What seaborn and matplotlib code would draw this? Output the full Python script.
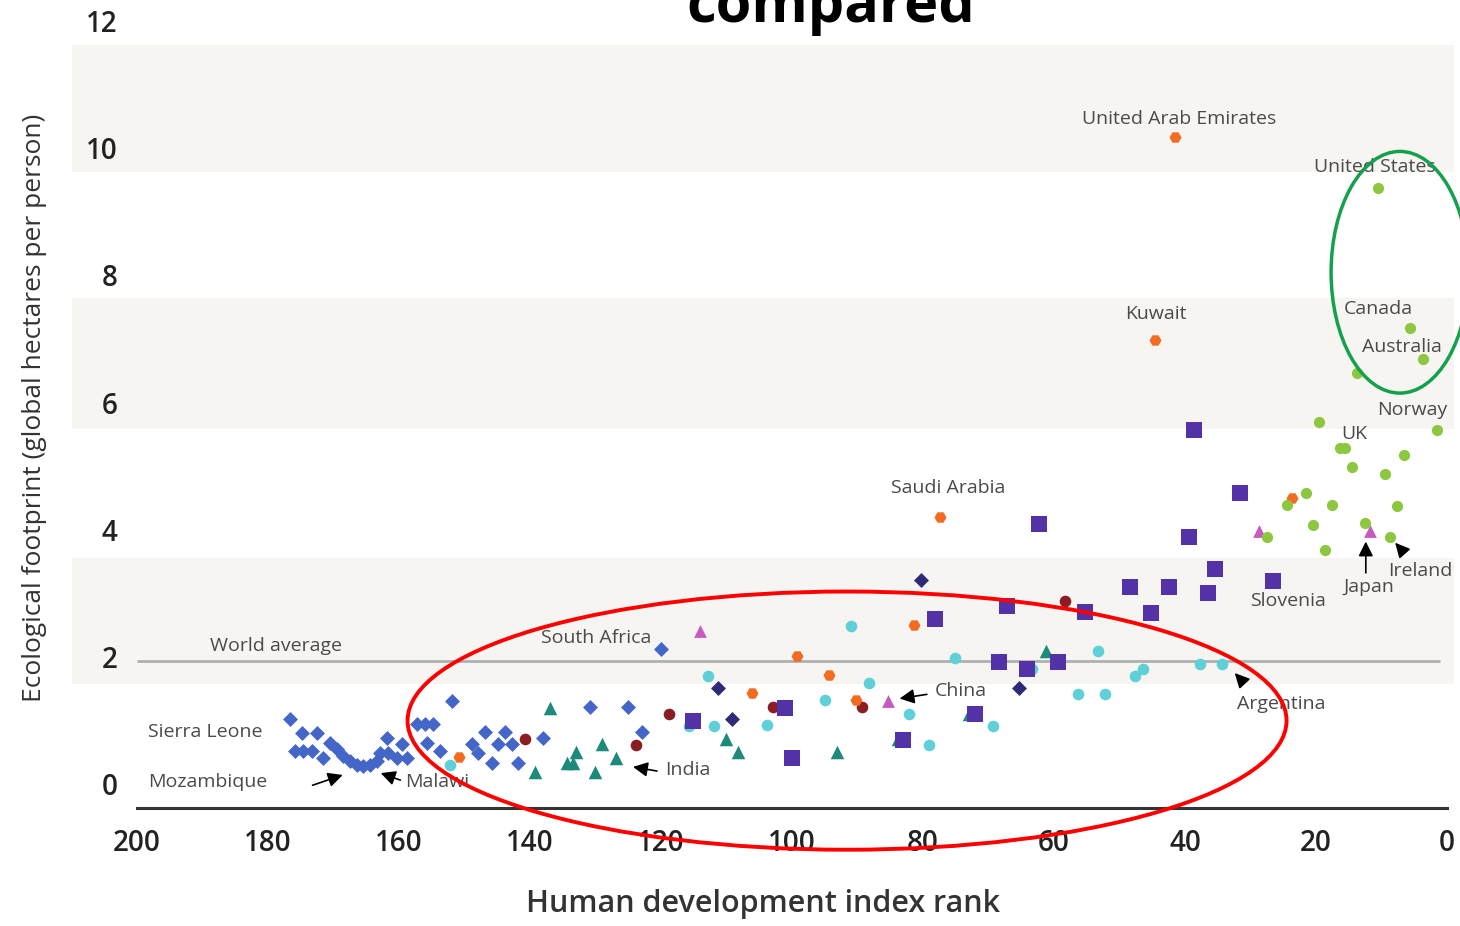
import matplotlib
matplotlib.use("Agg")
import numpy as np
import pandas as pd
import matplotlib.pyplot as plt
import seaborn as sns
from matplotlib.patches import Ellipse

# HDI rank / footprint (gha per person), one pair of lists per marker group
blue_x = [176.6, 174.8, 172.5, 175.9, 174.7, 173.3, 171.6, 170.5, 169.5, 168.5, 167.5, 166.4, 165.5,
          164.4, 163.4, 161.8, 162.9, 161.7, 159.5, 160.3, 158.8, 151.9, 157.3, 156.0, 154.8, 155.7,
          153.7, 148.9, 147.9, 146.9, 143.8, 144.9, 142.7, 145.8, 141.8, 138.0, 130.8, 125.0, 122.9, 120.0]
blue_y = [1.02, 0.80, 0.80, 0.52, 0.52, 0.52, 0.41, 0.65, 0.55, 0.44, 0.36, 0.31, 0.28,
          0.31, 0.36, 0.72, 0.49, 0.49, 0.63, 0.41, 0.41, 1.31, 0.94, 0.94, 0.94, 0.65,
          0.52, 0.63, 0.49, 0.82, 0.82, 0.63, 0.63, 0.33, 0.33, 0.72, 1.21, 1.21, 0.82, 2.13]

navy_x = [80.3, 111.3, 109.2, 65.3]
navy_y = [3.21, 1.51, 1.02, 1.51]

teal_x = [61.2, 73.0, 83.8, 93.1, 110.1, 108.2, 137.0, 129.0, 133.0, 126.9, 134.4, 133.5, 139.2, 130.1]
teal_y = [2.09, 1.10, 0.71, 0.50, 0.71, 0.50, 1.20, 0.63, 0.50, 0.41, 0.33, 0.33, 0.20, 0.20]

red_x = [58.3, 89.3, 102.9, 118.8, 140.8, 123.8]
red_y = [2.88, 1.21, 1.21, 1.10, 0.71, 0.61]

orange_x = [41.5, 44.6, 77.4, 23.7, 81.4, 99.2, 94.4, 106.1, 90.2, 150.8]
orange_y = [10.17, 6.99, 4.20, 4.50, 2.50, 2.02, 1.72, 1.43, 1.32, 0.43]

cyan_x = [91.0, 75.1, 53.3, 112.8, 88.2, 95.0, 82.1, 111.9, 115.7, 103.8, 69.3, 79.1, 56.3, 52.2,
          47.6, 46.4, 37.7, 34.4, 63.4, 152.2]
cyan_y = [2.49, 1.98, 2.09, 1.70, 1.59, 1.32, 1.10, 0.91, 0.91, 0.93, 0.91, 0.61, 1.42, 1.42,
          1.70, 1.81, 1.89, 1.89, 1.81, 0.31]

purple_x = [38.6, 31.6, 62.3, 39.4, 35.4, 48.4, 42.4, 36.5, 26.6, 45.2, 55.3, 67.2, 78.2, 68.4,
            59.4, 64.1, 72.1, 83.1, 101.1, 115.1, 100.0]
purple_y = [5.57, 4.58, 4.09, 3.89, 3.39, 3.10, 3.10, 3.01, 3.20, 2.69, 2.71, 2.80, 2.60, 1.92,
            1.92, 1.81, 1.10, 0.69, 1.20, 1.00, 0.41]

pink_x = [114.0, 85.3, 28.7, 11.8]
pink_y = [2.41, 1.31, 3.98, 3.98]

green_x = [10.5, 5.6, 3.7, 13.7, 1.5, 19.5, 16.3, 15.6, 6.6, 14.5, 9.5, 21.5, 24.4, 17.6, 7.6,
           20.5, 12.5, 27.5, 8.7, 18.6]
green_y = [9.37, 7.18, 6.69, 6.47, 5.57, 5.69, 5.28, 5.28, 5.18, 4.99, 4.88, 4.58, 4.39, 4.39, 4.38,
           4.08, 4.11, 3.89, 3.89, 3.69]

world_average = 1.94
band_edges = [(1.57, 3.56), (5.59, 7.65), (9.62, 11.62)]

# label, text position, arrow target (None = no arrow), alignment
labels = [
    ("United Arab Emirates", (40.9, 10.46), None, "center"),
    ("United States", (11.0, 9.70), None, "center"),
    ("Kuwait", (44.4, 7.40), None, "center"),
    ("Canada", (10.5, 7.48), None, "center"),
    ("Australia", (6.9, 6.88), None, "center"),
    ("Norway", (5.3, 5.89), None, "center"),
    ("UK", (14.2, 5.50), None, "center"),
    ("Saudi Arabia", (76.2, 4.66), None, "center"),
    ("Slovenia", (24.3, 2.88), None, "center"),
    ("South Africa", (138.3, 2.30), None, "left"),
    ("World average", (188.9, 2.17), None, "left"),
    ("Sierra Leone", (198.3, 0.82), None, "left"),
    ("Mozambique", (198.3, 0.03), None, "left"),
]
arrow_labels = [
    ("Malawi", (159.1, 0.03), (163.2, 0.19), (159.4, 0.05), "left"),
    ("India", (119.4, 0.22), (124.7, 0.28), (120.2, 0.20), "left"),
    ("China", (78.2, 1.46), (84.0, 1.34), (79.0, 1.42), "left"),
    ("Argentina", (32.1, 1.26), (32.7, 1.78), (30.8, 1.57), "left"),
    ("Japan", (11.9, 3.10), (12.4, 3.86), (12.4, 3.28), "center"),
    ("Ireland", (4.1, 3.35), (8.2, 3.83), (6.4, 3.62), "center"),
]

groups = [
    ("blue", blue_x, blue_y, "D", "#4466c8", 58),
    ("navy", navy_x, navy_y, "D", "#2e2a78", 58),
    ("teal", teal_x, teal_y, "^", "#1d8a7c", 95),
    ("darkred", red_x, red_y, "o", "#8a1c24", 70),
    ("orange", orange_x, orange_y, "H", "#f26b21", 75),
    ("cyan", cyan_x, cyan_y, "o", "#5fcfd8", 70),
    ("purple", purple_x, purple_y, "s", "#5232a6", 120),
    ("pink", pink_x, pink_y, "^", "#c65bbf", 85),
    ("green", green_x, green_y, "o", "#8dc63f", 65),
]

frames = []
for name, xs, ys, mk, col, sz in groups:
    frames.append(pd.DataFrame({"rank": xs, "footprint": ys, "group": name}))
df = pd.concat(frames, ignore_index=True)

sns.set_style("white")
plt.rcParams['font.family'] = ['Open Sans', 'DejaVu Sans']

fig = plt.figure(figsize=(14.6, 9.26), dpi=100)
ax = fig.add_axes([0.049, 0.127, 0.9466, 0.864])

for lo, hi in band_edges:
    ax.axhspan(lo, hi, color="#f6f5f1", zorder=0, lw=0)

ax.hlines(world_average, 200, 1, color="#b0b0b0", lw=2, zorder=1)

for name, xs, ys, mk, col, sz in groups:
    sns.scatterplot(data=df[df["group"] == name], x="rank", y="footprint", marker=mk,
                    color=col, s=sz, linewidth=0, ax=ax, zorder=3, legend=False)

ax.set_xlim(210, -1)
ax.set_ylim(-0.38, 12.2)
ax.set_xticks(range(0, 201, 20))
ax.set_yticks(range(0, 13, 2))

for side in ["left", "top", "right"]:
    ax.spines[side].set_visible(False)
ax.spines["bottom"].set_bounds(0, 200)
ax.spines["bottom"].set_color("#333333")
ax.spines["bottom"].set_linewidth(2.2)

ax.tick_params(axis="x", direction="out", length=5, width=2, color="#333333",
               labelsize=20, labelcolor="#222222", pad=10)
ax.tick_params(axis="y", length=0, labelsize=20, labelcolor="#222222", pad=-33)
for lab in ax.get_xticklabels() + ax.get_yticklabels():
    lab.set_fontweight("semibold")

ax.set_xlabel("Human development index rank", fontsize=22, color="#333333",
              fontweight="semibold", labelpad=22)
ax.set_ylabel("Ecological footprint (global hectares per person)", fontsize=19,
              color="#333333")
ax.yaxis.set_label_coords(-0.018, 0.5)

for text, pos, target, ha in labels:
    ax.text(pos[0], pos[1], text, fontsize=14, color="#4a4a4a", ha=ha, va="center", zorder=4)

ax.annotate("", xy=(168.2, 0.16), xytext=(173.6, -0.03),
            arrowprops=dict(arrowstyle="-|>", color="black", lw=1.2, mutation_scale=22), zorder=4)
for text, pos, head, tail, ha in arrow_labels:
    ax.text(pos[0], pos[1], text, fontsize=14, color="#4a4a4a", ha=ha, va="center", zorder=4)
    ax.annotate("", xy=head, xytext=tail,
                arrowprops=dict(arrowstyle="-|>", color="black", lw=1.2, mutation_scale=22), zorder=4)

ax.add_patch(Ellipse((91.6, 1.0), 134.2, 4.06, fill=False, ec="#ff0000", lw=2.8,
                     clip_on=False, zorder=5))
ax.add_patch(Ellipse((7.2, 8.05), 21, 3.8, fill=False, ec="#14a04c", lw=2.5,
                     clip_on=False, zorder=5))

fig.text(0.5687, 1 - 22 / 926, "compared", ha="center", va="baseline", fontsize=41.5,
         fontweight="bold", color="black")

plt.savefig("out.png", dpi=100)
